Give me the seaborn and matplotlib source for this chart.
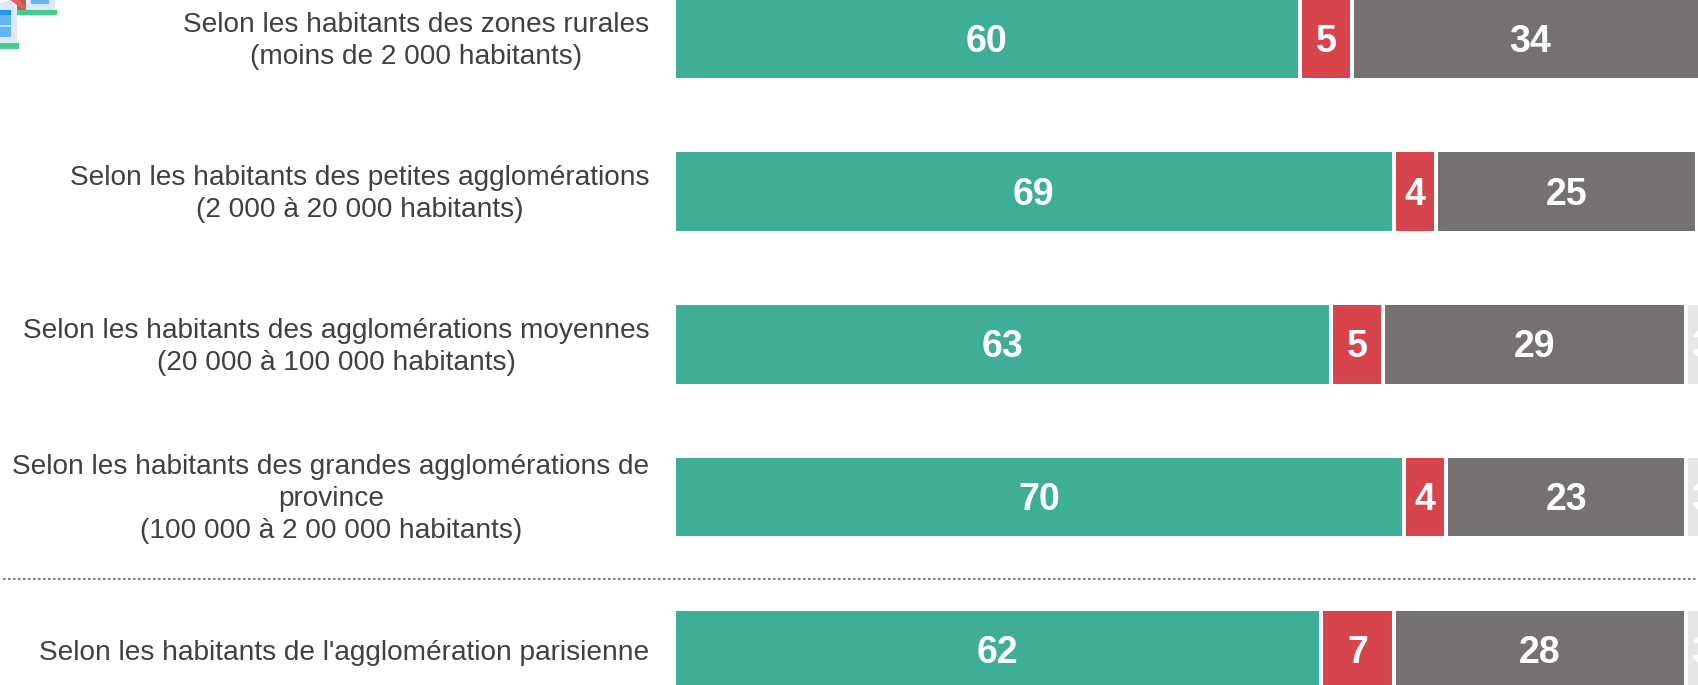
import matplotlib
matplotlib.use("Agg")
import matplotlib.pyplot as plt
from matplotlib.lines import Line2D
from matplotlib.patches import Rectangle, Polygon
from matplotlib.transforms import ScaledTranslation
import numpy as np
import pandas as pd
import seaborn as sns

categories = [
    "Selon les habitants des zones rurales\n(moins de 2 000 habitants)",
    "Selon les habitants des petites agglomérations\n(2 000 à 20 000 habitants)",
    "Selon les habitants des agglomérations moyennes\n(20 000 à 100 000 habitants)",
    "Selon les habitants des grandes agglomérations de\nprovince\n(100 000 à 2 00 000 habitants)",
    "Selon les habitants de l'agglomération parisienne",
]
green_vals = [60, 69, 63, 70, 62]
red_vals = [5, 4, 5, 4, 7]
grey_vals = [34, 25, 29, 23, 28]
light_vals = [1, 2, 3, 3, 3]

series_vals = [green_vals, red_vals, grey_vals, light_vals]
series_colors = ["#3FAE96", "#D8444C", "#757170", "#E6E6E6"]

W, H = 1698, 685
X0 = 673.5     # pixel of value 0
UNIT = 10.44   # pixels per point
ROW0 = 38.7    # pixel centre of first row
PITCH = 152.8  # pixels between rows

sns.set_theme(style="white")
plt.rcParams["font.family"] = ["Liberation Sans", "DejaVu Sans"]

fig = plt.figure(figsize=(W / 100, H / 100), dpi=100)
ax = fig.add_axes([X0 / W, 0, 1 - X0 / W, 1])

# stacked bars: cumulative totals, longest first
cumul = np.cumsum(np.array(series_vals), axis=0)
for i in range(len(series_vals) - 1, -1, -1):
    df = pd.DataFrame({"cat": categories, "total": cumul[i]})
    sns.barplot(data=df, x="total", y="cat", color=series_colors[i], saturation=1,
                width=82.5 / PITCH, edgecolor="white", linewidth=2.9, ax=ax)

ax.set_xlim(0, (W - X0) / UNIT)
ax.set_ylim((H - ROW0) / PITCH, -ROW0 / PITCH)
ax.set_xlabel("")
ax.set_ylabel("")
ax.set_xticks([])
for spine in ax.spines.values():
    spine.set_visible(False)
ax.tick_params(axis="y", length=0, pad=17.2)
for label in ax.get_yticklabels():
    label.set_fontsize(20.15)
    label.set_color("#404040")
    label.set_multialignment("center")
    label.set_linespacing(1.3)
    # wrapped labels sit a little high in the original
    if "\n" in label.get_text():
        label.set_transform(label.get_transform() + ScaledTranslation(0, 2.6 / 72, fig.dpi_scale_trans))

# value labels
for i, vals in enumerate(series_vals):
    for j, v in enumerate(vals):
        ax.text(cumul[i][j] - v / 2, j + 0.02, str(v), ha="center", va="center",
                fontsize=27, fontweight="bold", color="white", clip_on=True)

# dotted separator
fig.add_artist(Line2D([3 / W, 1], [1 - 579.2 / H] * 2, color="#7F7F7F", lw=1.5,
                      linestyle=(0, (1.2, 1.2))))

# house icon, cropped by the top left corner
icon = fig.add_axes([0, 0, 1, 1], zorder=3)
icon.set_xlim(0, W)
icon.set_ylim(H, 0)
icon.axis("off")
icon.patch.set_alpha(0)
icon.add_patch(Rectangle((17, 0), 38, 10, color="#DCE8FB", lw=0))
icon.add_patch(Rectangle((31, 0), 18, 4, color="#64B5F6", lw=0))
icon.add_patch(Rectangle((17, 0), 9, 10, color="#A5664F", lw=0))
icon.add_patch(Polygon([(0, 3), (10, 0), (17, 10), (17, 43), (0, 43)], color="#DCE8FB", lw=0))
icon.add_patch(Rectangle((0, 10), 11, 5, color="#2196F3", lw=0))
icon.add_patch(Rectangle((0, 15), 11, 22, color="#64B5F6", lw=0))
icon.add_patch(Rectangle((0, 25), 11, 1.5, color="#BBDEFB", lw=0))
icon.add_patch(Polygon([(10, 0), (19, 0), (26, 7), (25, 9), (21, 8)], color="#F0595F", lw=0))
icon.add_patch(Rectangle((17, 10), 40, 5, color="#43CC8A", lw=0))
icon.add_patch(Rectangle((0, 43), 19, 6, color="#43CC8A", lw=0))

fig.savefig("out.png", dpi=100)
